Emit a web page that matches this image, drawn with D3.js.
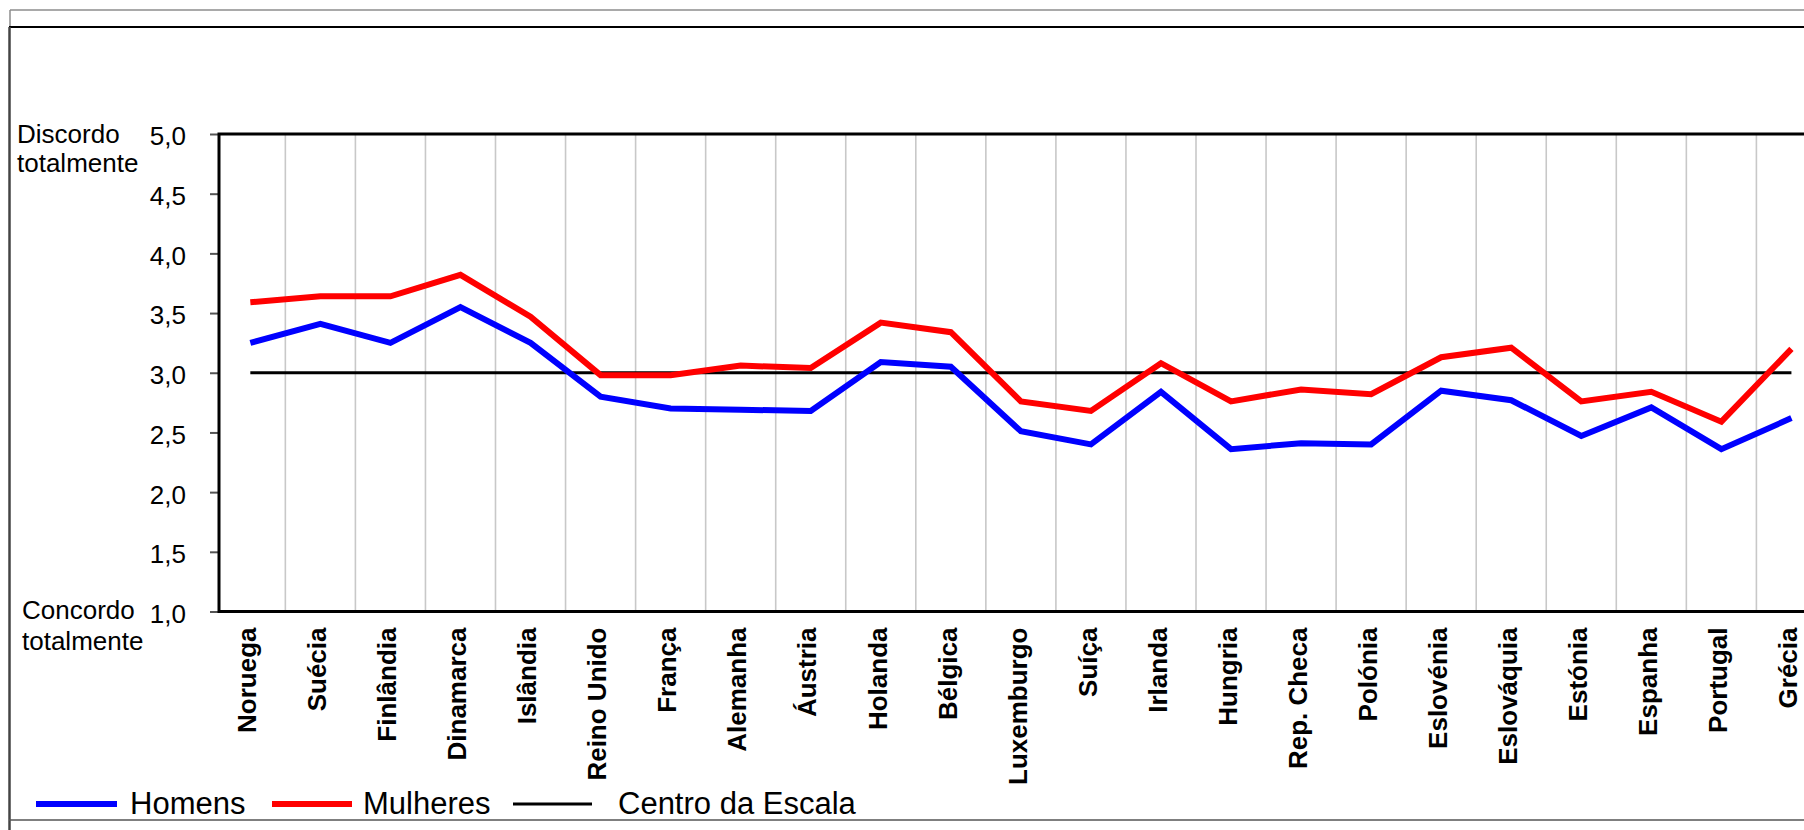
<!DOCTYPE html>
<html lang="pt">
<head>
<meta charset="utf-8">
<title>Homens e Mulheres por país</title>
<script src="https://cdn.jsdelivr.net/npm/d3@7/dist/d3.min.js"></script>
<style>
  html, body { margin: 0; padding: 0; background: #fff; }
  svg { display: block; font-family: "Liberation Sans", Arial, Helvetica, sans-serif; }
</style>
</head>
<body>
<svg id="chart" width="1804" height="830"></svg>
<script>
// Países (eixo horizontal)
const categories = [
  "Noruega", "Suécia", "Finlândia", "Dinamarca", "Islândia", "Reino Unido",
  "França", "Alemanha", "Áustria", "Holanda", "Bélgica", "Luxemburgo",
  "Suíça", "Irlanda", "Hungria", "Rep. Checa", "Polónia", "Eslovénia",
  "Eslováquia", "Estónia", "Espanha", "Portugal", "Grécia"
];

// Médias por sexo (1 = concordo totalmente, 5 = discordo totalmente)
const homens = [
  3.25, 3.41, 3.25, 3.55, 3.25, 2.80, 2.70, 2.69, 2.68, 3.09, 3.05, 2.51,
  2.40, 2.84, 2.36, 2.41, 2.40, 2.85, 2.77, 2.47, 2.71, 2.36, 2.62
];
const mulheres = [
  3.59, 3.64, 3.64, 3.82, 3.47, 2.98, 2.98, 3.06, 3.04, 3.42, 3.34, 2.76,
  2.68, 3.08, 2.76, 2.86, 2.82, 3.13, 3.21, 2.76, 2.84, 2.59, 3.20
];

// Ponto central da escala
const centroDaEscala = 3.0;

// Marcas do eixo vertical
const yTicks = [1.0, 1.5, 2.0, 2.5, 3.0, 3.5, 4.0, 4.5, 5.0];

// Rótulos das extremidades da escala
const topLabel = ["Discordo", "totalmente"];
const bottomLabel = ["Concordo", "totalmente"];

const series = [
  { name: "Homens", values: homens, color: "#0000ff", width: 6 },
  { name: "Mulheres", values: mulheres, color: "#ff0000", width: 6 }
];

const svg = d3.select("#chart");
const W = 1804, H = 830;

// Área de desenho
const plot = { left: 219, top: 134, bottom: 611.5 };
const band = 70.05;
const xStart = 215.3;

const x = d3.scaleBand()
  .domain(categories)
  .range([xStart, xStart + band * categories.length])
  .paddingInner(0).paddingOuter(0);

const y = d3.scaleLinear()
  .domain([1, 5])
  .range([plot.bottom, plot.top]);

const cx = d => x(d) + x.bandwidth() / 2;

// Moldura exterior
svg.append("line").attr("x1", 10).attr("x2", W).attr("y1", 10).attr("y2", 10)
  .attr("stroke", "#8c8c8c").attr("stroke-width", 1.5);
svg.append("line").attr("x1", 10).attr("x2", 10).attr("y1", 10).attr("y2", 27)
  .attr("stroke", "#8c8c8c").attr("stroke-width", 1.5);
svg.append("line").attr("x1", 9).attr("x2", W).attr("y1", 27).attr("y2", 27)
  .attr("stroke", "#000").attr("stroke-width", 2);
svg.append("line").attr("x1", 9.5).attr("x2", 9.5).attr("y1", 27).attr("y2", H)
  .attr("stroke", "#444").attr("stroke-width", 2.5);
svg.append("line").attr("x1", 9).attr("x2", W).attr("y1", 820).attr("y2", 820)
  .attr("stroke", "#555").attr("stroke-width", 1.5);

// Linhas de grelha verticais (limites entre países)
const boundaries = categories.slice(1);
svg.append("g")
  .selectAll("line")
  .data(boundaries)
  .join("line")
  .attr("x1", d => x(d)).attr("x2", d => x(d))
  .attr("y1", plot.top).attr("y2", plot.bottom)
  .attr("stroke", "#c8c8c8")
  .attr("stroke-width", 1.6);

// Eixo vertical
const yAxis = d3.axisLeft(y)
  .tickValues(yTicks)
  .tickSize(9)
  .tickPadding(24)
  .tickFormat(d => d3.format(".1f")(d).replace(".", ","));

const gy = svg.append("g")
  .attr("transform", `translate(${plot.left},0)`)
  .call(yAxis);
gy.select(".domain").remove();
gy.selectAll(".tick line").attr("stroke", "#555").attr("stroke-width", 2);
gy.selectAll(".tick text")
  .attr("font-size", 26)
  .attr("fill", "#000")
  .attr("dy", "0.42em");

// Eixo horizontal com rótulos rodados
const xAxis = d3.axisBottom(x).tickSize(0).tickPadding(0);
const gx = svg.append("g")
  .attr("transform", `translate(0,${plot.bottom})`)
  .call(xAxis);
gx.select(".domain").remove();
gx.selectAll(".tick text")
  .attr("font-size", 26)
  .attr("font-weight", "bold")
  .attr("fill", "#000")
  .attr("text-anchor", "end")
  .attr("transform", "translate(0,16) rotate(-90)")
  .attr("x", 0)
  .attr("y", 0)
  .attr("dy", "0.22em");

// Linha do centro da escala
svg.append("line")
  .attr("x1", cx(categories[0]))
  .attr("x2", cx(categories[categories.length - 1]))
  .attr("y1", y(centroDaEscala))
  .attr("y2", y(centroDaEscala))
  .attr("stroke", "#000")
  .attr("stroke-width", 3);

// Séries
const line = d3.line()
  .x((d, i) => cx(categories[i]))
  .y(d => y(d));

svg.append("g")
  .selectAll("path")
  .data(series)
  .join("path")
  .attr("d", s => line(s.values))
  .attr("fill", "none")
  .attr("stroke", s => s.color)
  .attr("stroke-width", s => s.width)
  .attr("stroke-linejoin", "miter")
  .attr("stroke-linecap", "butt");

// Contorno da área de desenho (superior, esquerdo, inferior)
svg.append("path")
  .attr("d", `M${W + 40},${plot.top} H${plot.left} V${plot.bottom} H${W + 40}`)
  .attr("fill", "none")
  .attr("stroke", "#000")
  .attr("stroke-width", 3);

// Rótulos das extremidades
const extremos = svg.append("g").attr("font-size", 26).attr("fill", "#000");
extremos.selectAll("text.top")
  .data(topLabel)
  .join("text")
  .attr("class", "top")
  .attr("x", 17)
  .attr("y", (d, i) => 143 + i * 29)
  .text(d => d);
extremos.selectAll("text.bottom")
  .data(bottomLabel)
  .join("text")
  .attr("class", "bottom")
  .attr("x", 22)
  .attr("y", (d, i) => 619 + i * 31)
  .text(d => d);

// Legenda
const legendItems = [
  { name: "Homens", color: "#0000ff", width: 6, x0: 36, x1: 117, tx: 130 },
  { name: "Mulheres", color: "#ff0000", width: 6, x0: 272, x1: 352, tx: 363 },
  { name: "Centro da Escala", color: "#000", width: 3, x0: 513, x1: 592, tx: 618 }
];
const legend = svg.append("g");
const li = legend.selectAll("g").data(legendItems).join("g");
li.append("line")
  .attr("x1", d => d.x0).attr("x2", d => d.x1)
  .attr("y1", 804).attr("y2", 804)
  .attr("stroke", d => d.color)
  .attr("stroke-width", d => d.width);
li.append("text")
  .attr("x", d => d.tx)
  .attr("y", 814)
  .attr("font-size", 31)
  .attr("fill", "#000")
  .text(d => d.name);
</script>
</body>
</html>
